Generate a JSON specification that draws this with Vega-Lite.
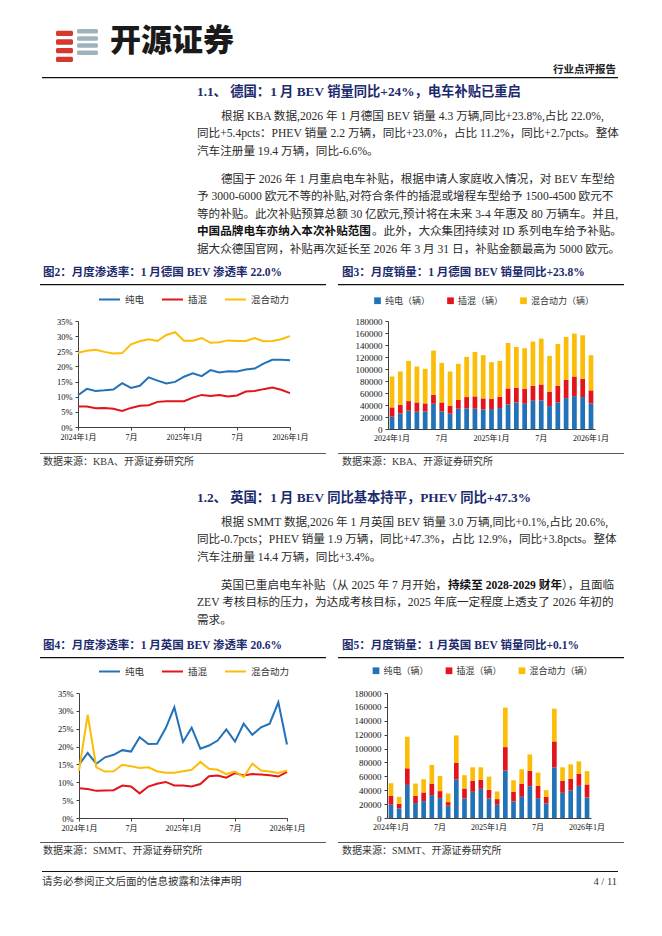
{
  "$schema": "https://vega.github.io/schema/vega-lite/v6.json",
  "padding": 0,
  "background": "#ffffff",
  "config": {
    "view": {"stroke": null},
    "axis": {"labelFont": "Liberation Serif, Noto Sans CJK SC", "grid": false},
    "legend": {"labelFont": "Noto Sans CJK SC"}
  },
  "resolve": {"scale": {"color": "independent"}, "legend": {"color": "independent"}},
  "datasets": {
    "de_pen": [
      {"m": "2024-01", "纯电": 10.5, "插混": 6.8, "混合动力": 24.5},
      {"m": "2024-02", "纯电": 12.6, "插混": 6.8, "混合动力": 25.2},
      {"m": "2024-03", "纯电": 11.9, "插混": 6.2, "混合动力": 25.5},
      {"m": "2024-04", "纯电": 12.1, "插混": 6.3, "混合动力": 24.8},
      {"m": "2024-05", "纯电": 12.4, "插混": 6.0, "混合动力": 24.3},
      {"m": "2024-06", "纯电": 14.5, "插混": 5.3, "混合动力": 24.4},
      {"m": "2024-07", "纯电": 12.9, "插混": 6.3, "混合动力": 27.3},
      {"m": "2024-08", "纯电": 13.6, "插混": 7.0, "混合动力": 28.3},
      {"m": "2024-09", "纯电": 16.4, "插混": 7.2, "混合动力": 29.0},
      {"m": "2024-10", "纯电": 15.3, "插混": 8.3, "混合动力": 28.4},
      {"m": "2024-11", "纯电": 14.4, "插混": 8.5, "混合动力": 30.4},
      {"m": "2024-12", "纯电": 14.9, "插混": 8.5, "混合动力": 31.3},
      {"m": "2025-01", "纯电": 16.6, "插混": 8.5, "混合动力": 28.5},
      {"m": "2025-02", "纯电": 17.7, "插混": 9.7, "混合动力": 28.5},
      {"m": "2025-03", "纯电": 16.8, "插混": 10.6, "混合动力": 29.4},
      {"m": "2025-04", "纯电": 18.8, "插混": 10.2, "混合动力": 27.8},
      {"m": "2025-05", "纯电": 18.0, "插混": 10.6, "混合动力": 28.0},
      {"m": "2025-06", "纯电": 18.4, "插混": 10.1, "混合动力": 28.6},
      {"m": "2025-07", "纯电": 18.3, "插混": 10.4, "混合动力": 28.4},
      {"m": "2025-08", "纯电": 19.0, "插混": 11.7, "混合动力": 28.4},
      {"m": "2025-09", "纯电": 19.3, "插混": 11.9, "混合动力": 29.4},
      {"m": "2025-10", "纯电": 20.9, "插混": 12.5, "混合动力": 28.3},
      {"m": "2025-11", "纯电": 22.2, "插混": 13.0, "混合动力": 28.4},
      {"m": "2025-12", "纯电": 22.2, "插混": 12.3, "混合动力": 29.0},
      {"m": "2026-01", "纯电": 22.0, "插混": 11.2, "混合动力": 30.0}
    ],
    "de_sales": [
      {"m": "2024-01", "纯电（辆）": 20500, "插混（辆）": 15500, "混合动力（辆）": 51500},
      {"m": "2024-02", "纯电（辆）": 26000, "插混（辆）": 14400, "混合动力（辆）": 55400},
      {"m": "2024-03", "纯电（辆）": 30500, "插混（辆）": 16000, "混合动力（辆）": 67100},
      {"m": "2024-04", "纯电（辆）": 28800, "插混（辆）": 15500, "混合动力（辆）": 59900},
      {"m": "2024-05", "纯电（辆）": 29400, "插混（辆）": 13300, "混合动力（辆）": 57600},
      {"m": "2024-06", "纯电（辆）": 42100, "插混（辆）": 14900, "混合动力（辆）": 73700},
      {"m": "2024-07", "纯电（辆）": 29400, "插混（辆）": 14900, "混合动力（辆）": 65900},
      {"m": "2024-08", "纯电（辆）": 25500, "插混（辆）": 13300, "混合动力（辆）": 57000},
      {"m": "2024-09", "纯电（辆）": 33800, "插混（辆）": 15000, "混合动力（辆）": 59800},
      {"m": "2024-10", "纯电（辆）": 34300, "插混（辆）": 18900, "混合动力（辆）": 67000},
      {"m": "2024-11", "纯电（辆）": 33800, "插混（辆）": 20500, "混合动力（辆）": 74200},
      {"m": "2024-12", "纯电（辆）": 32700, "插混（辆）": 18300, "混合动力（辆）": 72000},
      {"m": "2025-01", "纯电（辆）": 33200, "插混（辆）": 17200, "混合动力（辆）": 61000},
      {"m": "2025-02", "纯电（辆）": 34900, "插混（辆）": 18800, "混合动力（辆）": 59900},
      {"m": "2025-03", "纯电（辆）": 41000, "插混（辆）": 26600, "混合动力（辆）": 75900},
      {"m": "2025-04", "纯电（辆）": 44300, "插混（辆）": 24400, "混合动力（辆）": 68100},
      {"m": "2025-05", "纯电（辆）": 42100, "插混（辆）": 24900, "混合动力（辆）": 67600},
      {"m": "2025-06", "纯电（辆）": 47100, "插混（辆）": 24900, "混合动力（辆）": 73700},
      {"m": "2025-07", "纯电（辆）": 47600, "插混（辆）": 26600, "混合动力（辆）": 76500},
      {"m": "2025-08", "纯电（辆）": 38200, "插混（辆）": 23800, "混合动力（辆）": 59900},
      {"m": "2025-09", "纯电（辆）": 44300, "插混（辆）": 27700, "混合动力（辆）": 69800},
      {"m": "2025-10", "纯电（辆）": 51500, "插混（辆）": 30500, "混合动力（辆）": 71500},
      {"m": "2025-11", "纯电（辆）": 54800, "插混（辆）": 32700, "混合动力（辆）": 71500},
      {"m": "2025-12", "纯电（辆）": 53200, "插混（辆）": 30500, "混合动力（辆）": 72500},
      {"m": "2026-01", "纯电（辆）": 42700, "插混（辆）": 21700, "混合动力（辆）": 58600}
    ],
    "uk_pen": [
      {"m": "2024-01", "纯电": 14.9, "插混": 8.3, "混合动力": 13.2},
      {"m": "2024-02", "纯电": 18.2, "插混": 8.1, "混合动力": 28.9},
      {"m": "2024-03", "纯电": 15.2, "插混": 7.6, "混合动力": 14.2},
      {"m": "2024-04", "纯电": 17.0, "插混": 7.7, "混合动力": 13.0},
      {"m": "2024-05", "纯电": 17.7, "插混": 7.8, "混合动力": 13.1},
      {"m": "2024-06", "纯电": 19.0, "插混": 9.1, "混合动力": 14.9},
      {"m": "2024-07", "纯电": 18.6, "插混": 8.8, "混合动力": 14.5},
      {"m": "2024-08", "纯电": 22.6, "插混": 6.9, "混合动力": 14.0},
      {"m": "2024-09", "纯电": 20.7, "插混": 8.8, "混合动力": 14.2},
      {"m": "2024-10", "纯电": 20.8, "插混": 9.6, "混合动力": 13.1},
      {"m": "2024-11", "纯电": 25.1, "插混": 10.1, "混合动力": 12.7},
      {"m": "2024-12", "纯电": 31.0, "插混": 9.1, "混合动力": 12.7},
      {"m": "2025-01", "纯电": 21.3, "插混": 9.1, "混合动力": 13.1},
      {"m": "2025-02", "纯电": 25.3, "插混": 8.8, "混合动力": 13.5},
      {"m": "2025-03", "纯电": 19.4, "插混": 9.5, "混合动力": 15.7},
      {"m": "2025-04", "纯电": 20.3, "插混": 11.7, "混合动力": 13.8},
      {"m": "2025-05", "纯电": 21.7, "插混": 11.9, "混合动力": 13.5},
      {"m": "2025-06", "纯电": 24.8, "插混": 11.3, "混合动力": 12.3},
      {"m": "2025-07", "纯电": 21.4, "插混": 12.6, "混合动力": 13.0},
      {"m": "2025-08", "纯电": 26.4, "插混": 11.9, "混合动力": 11.5},
      {"m": "2025-09", "纯电": 23.3, "插混": 12.3, "混合动力": 15.2},
      {"m": "2025-10", "纯电": 25.4, "插混": 12.2, "混合动力": 13.3},
      {"m": "2025-11", "纯电": 26.4, "插混": 12.0, "混合动力": 13.0},
      {"m": "2025-12", "纯电": 32.4, "插混": 11.6, "混合动力": 12.6},
      {"m": "2026-01", "纯电": 20.6, "插混": 12.9, "混合动力": 13.3}
    ],
    "uk_sales": [
      {"m": "2024-01", "纯电（辆）": 19100, "插混（辆）": 12900, "混合动力（辆）": 18100},
      {"m": "2024-02", "纯电（辆）": 13800, "插混（辆）": 6700, "混合动力（辆）": 10000},
      {"m": "2024-03", "纯电（辆）": 47700, "插混（辆）": 23900, "混合动力（辆）": 45400},
      {"m": "2024-04", "纯电（辆）": 21500, "插混（辆）": 10500, "混合动力（辆）": 17600},
      {"m": "2024-05", "纯电（辆）": 24300, "插混（辆）": 12500, "混合动力（辆）": 19000},
      {"m": "2024-06", "纯电（辆）": 32900, "插混（辆）": 16700, "混合动力（辆）": 26800},
      {"m": "2024-07", "纯电（辆）": 28600, "插混（辆）": 10100, "混合动力（辆）": 21900},
      {"m": "2024-08", "纯电（辆）": 17700, "插混（辆）": 5200, "混合动力（辆）": 12400},
      {"m": "2024-09", "纯电（辆）": 55400, "插混（辆）": 23800, "混合动力（辆）": 39700},
      {"m": "2024-10", "纯电（辆）": 28200, "插混（辆）": 14300, "混合动力（辆）": 19100},
      {"m": "2024-11", "纯电（辆）": 37700, "插混（辆）": 15800, "混合动力（辆）": 19500},
      {"m": "2024-12", "纯电（辆）": 42000, "插混（辆）": 12900, "混合动力（辆）": 18100},
      {"m": "2025-01", "纯电（辆）": 28200, "插混（辆）": 12400, "混合动力（辆）": 19100},
      {"m": "2025-02", "纯电（辆）": 19100, "插混（辆）": 8100, "混合动力（辆）": 11000},
      {"m": "2025-03", "纯电（辆）": 68300, "插混（辆）": 33800, "混合动力（辆）": 56900},
      {"m": "2025-04", "纯电（辆）": 23900, "插混（辆）": 13800, "混合动力（辆）": 16700},
      {"m": "2025-05", "纯电（辆）": 30500, "插混（辆）": 19100, "混合动力（辆）": 20600},
      {"m": "2025-06", "纯电（辆）": 45800, "插混（辆）": 22000, "混合动力（辆）": 23800},
      {"m": "2025-07", "纯电（辆）": 28600, "插混（辆）": 17700, "混合动力（辆）": 19100},
      {"m": "2025-08", "纯电（辆）": 21000, "插混（辆）": 9500, "混合动力（辆）": 9600},
      {"m": "2025-09", "纯电（辆）": 73000, "插混（辆）": 37300, "混合动力（辆）": 47200},
      {"m": "2025-10", "纯电（辆）": 36300, "插混（辆）": 17200, "混合动力（辆）": 19500},
      {"m": "2025-11", "纯电（辆）": 39600, "插混（辆）": 16700, "混合动力（辆）": 21000},
      {"m": "2025-12", "纯电（辆）": 46300, "插混（辆）": 17200, "混合动力（辆）": 18100},
      {"m": "2026-01", "纯电（辆）": 29700, "插混（辆）": 18600, "混合动力（辆）": 19200}
    ]
  },
  "vconcat": [
    {"width": 662, "height": 22, "data": {"values": []}, "mark": "text", "encoding": {}},
    {"hconcat": [
      {"width": 56, "height": 40, "data": {"values": []}, "mark": "text", "encoding": {}},
      {"width": 17, "height": 40, "data": {"values": [{"k": 1}, {"k": 2}, {"k": 3}, {"k": 4}]},
       "mark": {"type": "bar", "color": "#d8372e", "cornerRadius": 1.5},
       "encoding": {"y": {"field": "k", "type": "ordinal", "axis": null, "scale": {"domain": [0, 1, 2, 3, 4], "paddingInner": 0.38, "paddingOuter": 0}}}},
      {"width": 4, "height": 40, "data": {"values": []}, "mark": "text", "encoding": {}},
      {"width": 21, "height": 40, "data": {"values": [{"k": 1}, {"k": 2}, {"k": 3}, {"k": 4}]},
       "mark": {"type": "bar", "color": "#9fb3bf", "cornerRadius": 1.5},
       "encoding": {"y": {"field": "k", "type": "ordinal", "axis": null, "scale": {"domain": [0, 1, 2, 3, 4, 5], "paddingInner": 0.38, "paddingOuter": 0}}}},
      {"width": 12, "height": 40, "data": {"values": []}, "mark": "text", "encoding": {}},
      {"width": 150, "height": 40, "data": {"values": [{"p": "logo", "t": "开源证券"}]},
       "mark": {"type": "text", "align": "left", "baseline": "middle", "font": "Noto Sans CJK SC", "fontSize": 31, "fontWeight": 900, "letterSpacing": 3.5, "color": "#1a1a1a"},
       "encoding": {"x": {"field": "p", "type": "nominal", "axis": null, "scale": {"type": "point", "padding": 0, "align": 0}}, "text": {"field": "t"}}}
    ], "spacing": 0, "bounds": "flush"},
    {"hconcat": [
      {"width": 553, "height": 15, "data": {"values": []}, "mark": "text", "encoding": {}},
      {"width": 63, "height": 15, "data": {"values": [{"p": "hdr", "t": "行业点评报告"}]},
       "mark": {"type": "text", "align": "right", "baseline": "middle", "font": "Noto Sans CJK SC", "fontSize": 10.5, "fontWeight": "bold", "color": "#222"},
       "encoding": {"x": {"field": "p", "type": "nominal", "axis": null, "scale": {"type": "point", "padding": 0, "align": 1}}, "text": {"field": "t"}}}
    ], "spacing": 0, "bounds": "flush"},
    {"hconcat": [
      {"width": 42, "height": 1.3, "data": {"values": []}, "mark": "text", "encoding": {}},
      {"width": 576, "height": 1.3, "view": {"fill": "#111", "stroke": null}, "data": {"values": []}, "mark": "text", "encoding": {}}
    ], "spacing": 0, "bounds": "flush"},
    {"width": 662, "height": 3.7, "data": {"values": []}, "mark": "text", "encoding": {}},
    {"hconcat": [
      {"width": 197, "height": 18, "data": {"values": []}, "mark": "text", "encoding": {}},
      {"width": 421, "height": 18, "data": {"values": [{"p": "1.1", "t": "1.1、 德国：1 月 BEV 销量同比+24%，电车补贴已重启"}]},
       "mark": {"type": "text", "align": "left", "baseline": "middle", "font": "Liberation Serif, Noto Sans CJK SC", "fontSize": 13.3, "fontWeight": "bold", "color": "#1c2b6e"},
       "encoding": {"x": {"field": "p", "type": "nominal", "axis": null, "scale": {"type": "point", "padding": 0, "align": 0}}, "text": {"field": "t"}}}
    ], "spacing": 0, "bounds": "flush"},
    {"width": 662, "height": 6.25, "data": {"values": []}, "mark": "text", "encoding": {}},
    {"hconcat": [
      {"width": 197, "height": 52.5, "data": {"values": []}, "mark": "text", "encoding": {}},
      {"width": 23.2, "height": 52.5, "data": {"values": [
        {"p": "1.1-1", "line": 2, "t": "同比+5.4pcts：PHEV 销量 2.2 万辆，同比+23.0%，占比 11.2%，同比+2.7pcts。整体"},
        {"p": "1.1-1", "line": 3, "t": "汽车注册量 19.4 万辆，同比-6.6%。"}
      ]},
       "mark": {"type": "text", "align": "left", "baseline": "middle", "font": "Liberation Serif, Noto Sans CJK SC", "fontSize": 11.6, "color": "#2a2a2a"},
       "encoding": {"x": {"field": "p", "type": "nominal", "axis": null, "scale": {"type": "point", "padding": 0, "align": 0}},
                    "y": {"field": "line", "type": "ordinal", "axis": null, "scale": {"type": "point", "padding": 0.5, "domain": [1, 2, 3]}}, "text": {"field": "t"}}},
      {"width": 397.8, "height": 52.5, "data": {"values": [
        {"p": "1.1-1", "line": 1, "t": "根据 KBA 数据,2026 年 1 月德国 BEV 销量 4.3 万辆,同比+23.8%,占比 22.0%,"}
      ]},
       "mark": {"type": "text", "align": "left", "baseline": "middle", "font": "Liberation Serif, Noto Sans CJK SC", "fontSize": 11.6, "color": "#2a2a2a"},
       "encoding": {"x": {"field": "p", "type": "nominal", "axis": null, "scale": {"type": "point", "padding": 0, "align": 0}},
                    "y": {"field": "line", "type": "ordinal", "axis": null, "scale": {"type": "point", "padding": 0.5, "domain": [1, 2, 3]}}, "text": {"field": "t"}}}
    ], "spacing": 0, "bounds": "flush"},
    {"width": 662, "height": 9.5, "data": {"values": []}, "mark": "text", "encoding": {}},
    {"hconcat": [
      {"width": 197, "height": 87.5, "data": {"values": []}, "mark": "text", "encoding": {}},
      {"width": 23.2, "height": 87.5, "layer": [
        {"data": {"values": [
          {"p": "1.1-2", "line": 2, "t": "予 3000-6000 欧元不等的补贴,对符合条件的插混或增程车型给予 1500-4500 欧元不"},
          {"p": "1.1-2", "line": 3, "t": "等的补贴。此次补贴预算总额 30 亿欧元,预计将在未来 3-4 年惠及 80 万辆车。并且,"},
          {"p": "1.1-2", "line": 5, "t": "据大众德国官网，补贴再次延长至 2026 年 3 月 31 日，补贴金额最高为 5000 欧元。"}
        ]},
         "mark": {"type": "text", "align": "left", "baseline": "middle", "font": "Liberation Serif, Noto Sans CJK SC", "fontSize": 11.6, "color": "#2a2a2a"},
         "encoding": {"x": {"field": "p", "type": "nominal", "axis": null, "scale": {"type": "point", "padding": 0, "align": 0}},
                      "y": {"field": "line", "type": "ordinal", "axis": null, "scale": {"type": "point", "padding": 0.5, "domain": [1, 2, 3, 4, 5]}}, "text": {"field": "t"}}},
        {"data": {"values": [{"p": "1.1-2", "line": 4, "t": "中国品牌电车亦纳入本次补贴范围"}]},
         "mark": {"type": "text", "align": "left", "baseline": "middle", "font": "Liberation Serif, Noto Sans CJK SC", "fontSize": 11.6, "fontWeight": "bold", "color": "#111"},
         "encoding": {"x": {"field": "p", "type": "nominal", "axis": null},
                      "y": {"field": "line", "type": "ordinal", "axis": null}, "text": {"field": "t"}}}
      ]},
      {"width": 150.8, "height": 87.5, "data": {"values": [{"p": "1.1-2", "line": 1, "t": "德国于 2026 年 1 月重启电车补贴，根据申请人家庭收入情况，对 BEV 车型给"}]},
       "mark": {"type": "text", "align": "left", "baseline": "middle", "font": "Liberation Serif, Noto Sans CJK SC", "fontSize": 11.6, "color": "#2a2a2a"},
       "encoding": {"x": {"field": "p", "type": "nominal", "axis": null, "scale": {"type": "point", "padding": 0, "align": 0}},
                    "y": {"field": "line", "type": "ordinal", "axis": null, "scale": {"type": "point", "padding": 0.5, "domain": [1, 2, 3, 4, 5]}}, "text": {"field": "t"}}},
      {"width": 247, "height": 87.5, "data": {"values": [{"p": "1.1-2", "line": 4, "t": "。此外，大众集团持续对 ID 系列电车给予补贴。"}]},
       "mark": {"type": "text", "align": "left", "baseline": "middle", "font": "Liberation Serif, Noto Sans CJK SC", "fontSize": 11.6, "color": "#2a2a2a"},
       "encoding": {"x": {"field": "p", "type": "nominal", "axis": null, "scale": {"type": "point", "padding": 0, "align": 0}},
                    "y": {"field": "line", "type": "ordinal", "axis": null, "scale": {"type": "point", "padding": 0.5, "domain": [1, 2, 3, 4, 5]}}, "text": {"field": "t"}}}
    ], "spacing": 0, "bounds": "flush"},
    {"width": 662, "height": 2.25, "data": {"values": []}, "mark": "text", "encoding": {}},
    {"hconcat": [
      {"width": 42.5, "height": 22, "data": {"values": []}, "mark": "text", "encoding": {}},
      {"width": 283, "height": 22, "data": {"values": [{"p": "图2", "t": "图2：月度渗透率：1 月德国 BEV 渗透率 22.0%"}]},
       "mark": {"type": "text", "align": "left", "baseline": "middle", "font": "Liberation Serif, Noto Sans CJK SC", "fontSize": 11.5, "fontWeight": "bold", "color": "#1c2b6e"},
       "encoding": {"x": {"field": "p", "type": "nominal", "axis": null, "scale": {"type": "point", "padding": 0, "align": 0}}, "text": {"field": "t"}}},
      {"width": 16, "height": 22, "data": {"values": []}, "mark": "text", "encoding": {}},
      {"width": 283, "height": 22, "data": {"values": [{"p": "图3", "t": "图3：月度销量：1 月德国 BEV 销量同比+23.8%"}]},
       "mark": {"type": "text", "align": "left", "baseline": "middle", "font": "Liberation Serif, Noto Sans CJK SC", "fontSize": 11.5, "fontWeight": "bold", "color": "#1c2b6e"},
       "encoding": {"x": {"field": "p", "type": "nominal", "axis": null, "scale": {"type": "point", "padding": 0, "align": 0}}, "text": {"field": "t"}}}
    ], "spacing": 0, "bounds": "flush"},
    {"hconcat": [
      {"width": 40, "height": 1.2, "data": {"values": []}, "mark": "text", "encoding": {}},
      {"width": 286, "height": 1.2, "view": {"fill": "#111", "stroke": null}, "data": {"values": []}, "mark": "text", "encoding": {}},
      {"width": 12, "height": 1.2, "data": {"values": []}, "mark": "text", "encoding": {}},
      {"width": 286, "height": 1.2, "view": {"fill": "#111", "stroke": null}, "data": {"values": []}, "mark": "text", "encoding": {}}
    ], "spacing": 0, "bounds": "flush"},
    {"width": 662, "height": 1.8, "data": {"values": []}, "mark": "text", "encoding": {}},
    {"hconcat": [
      {"width": 78, "height": 106, "data": {"values": []}, "mark": "text", "encoding": {}},
      {"width": 212, "height": 106, "data": {"name": "de_pen"},
       "transform": [{"fold": ["纯电", "插混", "混合动力"], "as": ["s", "v"]}],
       "mark": {"type": "line", "strokeWidth": 2},
       "encoding": {
         "x": {"field": "m", "type": "ordinal", "scale": {"type": "point", "padding": 0},
               "axis": {"title": null, "values": ["2024-01", "2024-07", "2025-01", "2025-07", "2026-01"], "labelExpr": "substring(datum.value,5,7)=='01' ? substring(datum.value,0,4)+'年1月' : '7月'", "labelAngle": 0, "labelFontSize": 8, "labelColor": "#111", "labelPadding": 3, "tickSize": 3, "tickColor": "#404040", "domainColor": "#404040", "labelOverlap": false, "labelFlush": false, "labelBound": false}},
         "y": {"field": "v", "type": "quantitative", "scale": {"domain": [0, 35], "nice": false},
               "axis": {"title": null, "values": [0, 5, 10, 15, 20, 25, 30, 35], "labelExpr": "datum.value + '%'", "labelFontSize": 8.5, "labelColor": "#111", "labelPadding": 3, "tickSize": 3, "tickColor": "#404040", "domainColor": "#404040"}},
         "color": {"field": "s", "type": "nominal", "scale": {"domain": ["纯电", "插混", "混合动力"], "range": ["#2272b8", "#e3141b", "#fbbd08"]},
                   "legend": {"orient": "none", "legendX": 20, "legendY": -33, "direction": "horizontal", "title": null, "symbolType": "stroke", "symbolStrokeWidth": 2, "symbolSize": 440, "labelFontSize": 9.5, "labelColor": "#333", "labelOffset": 4, "columnPadding": 13, "padding": 0}}
       }},
      {"width": 98, "height": 106, "data": {"values": []}, "mark": "text", "encoding": {}},
      {"width": 207, "height": 108, "data": {"name": "de_sales"},
       "transform": [{"fold": ["纯电（辆）", "插混（辆）", "混合动力（辆）"], "as": ["s", "v"]}, {"calculate": "indexof(['纯电（辆）','插混（辆）','混合动力（辆）'], datum.s)", "as": "o"}],
       "mark": {"type": "bar"},
       "encoding": {
         "x": {"field": "m", "type": "ordinal", "scale": {"paddingInner": 0.43, "paddingOuter": 0.2},
               "axis": {"title": null, "values": ["2024-01", "2024-07", "2025-01", "2025-07", "2026-01"], "labelExpr": "substring(datum.value,5,7)=='01' ? substring(datum.value,0,4)+'年1月' : '7月'", "labelAngle": 0, "labelFontSize": 8, "labelColor": "#111", "labelPadding": 5, "ticks": false, "domainColor": "#404040", "labelOverlap": false, "labelFlush": false, "labelBound": false}},
         "y": {"field": "v", "type": "quantitative", "stack": "zero", "scale": {"domain": [0, 180000], "nice": false},
               "axis": {"title": null, "values": [0, 20000, 40000, 60000, 80000, 100000, 120000, 140000, 160000, 180000], "format": "d", "labelFontSize": 9, "labelColor": "#111", "labelPadding": 3, "tickSize": 3, "tickColor": "#404040", "domainColor": "#404040"}},
         "color": {"field": "s", "type": "nominal", "scale": {"domain": ["纯电（辆）", "插混（辆）", "混合动力（辆）"], "range": ["#2272b8", "#e3141b", "#fbbd08"]},
                   "legend": {"orient": "none", "legendX": -15, "legendY": -25, "direction": "horizontal", "title": null, "symbolType": "square", "symbolSize": 45, "labelFontSize": 9, "labelColor": "#333", "labelOffset": 3, "columnPadding": 15, "padding": 0}},
         "order": {"field": "o", "type": "quantitative"}
       }}
    ], "spacing": 0, "bounds": "flush", "resolve": {"scale": {"color": "independent"}, "legend": {"color": "independent"}}},
    {"width": 662, "height": 11, "data": {"values": []}, "mark": "text", "encoding": {}},
    {"hconcat": [
      {"width": 40, "height": 0.8, "data": {"values": []}, "mark": "text", "encoding": {}},
      {"width": 286, "height": 0.8, "view": {"fill": "#222", "stroke": null}, "data": {"values": []}, "mark": "text", "encoding": {}},
      {"width": 12, "height": 0.8, "data": {"values": []}, "mark": "text", "encoding": {}},
      {"width": 286, "height": 0.8, "view": {"fill": "#222", "stroke": null}, "data": {"values": []}, "mark": "text", "encoding": {}}
    ], "spacing": 0, "bounds": "flush"},
    {"hconcat": [
      {"width": 42.5, "height": 16.2, "data": {"values": []}, "mark": "text", "encoding": {}},
      {"width": 283, "height": 16.2, "data": {"values": [{"p": "s2", "t": "数据来源：KBA、开源证券研究所"}]},
       "mark": {"type": "text", "align": "left", "baseline": "middle", "font": "Liberation Serif, Noto Sans CJK SC", "fontSize": 10, "color": "#333"},
       "encoding": {"x": {"field": "p", "type": "nominal", "axis": null, "scale": {"type": "point", "padding": 0, "align": 0}}, "text": {"field": "t"}}},
      {"width": 16, "height": 16.2, "data": {"values": []}, "mark": "text", "encoding": {}},
      {"width": 283, "height": 16.2, "data": {"values": [{"p": "s3", "t": "数据来源：KBA、开源证券研究所"}]},
       "mark": {"type": "text", "align": "left", "baseline": "middle", "font": "Liberation Serif, Noto Sans CJK SC", "fontSize": 10, "color": "#333"},
       "encoding": {"x": {"field": "p", "type": "nominal", "axis": null, "scale": {"type": "point", "padding": 0, "align": 0}}, "text": {"field": "t"}}}
    ], "spacing": 0, "bounds": "flush"},
    {"width": 662, "height": 18, "data": {"values": []}, "mark": "text", "encoding": {}},
    {"hconcat": [
      {"width": 197, "height": 18, "data": {"values": []}, "mark": "text", "encoding": {}},
      {"width": 421, "height": 18, "data": {"values": [{"p": "1.2", "t": "1.2、 英国：1 月 BEV 同比基本持平，PHEV 同比+47.3%"}]},
       "mark": {"type": "text", "align": "left", "baseline": "middle", "font": "Liberation Serif, Noto Sans CJK SC", "fontSize": 13.3, "fontWeight": "bold", "color": "#1c2b6e"},
       "encoding": {"x": {"field": "p", "type": "nominal", "axis": null, "scale": {"type": "point", "padding": 0, "align": 0}}, "text": {"field": "t"}}}
    ], "spacing": 0, "bounds": "flush"},
    {"width": 662, "height": 6.25, "data": {"values": []}, "mark": "text", "encoding": {}},
    {"hconcat": [
      {"width": 197, "height": 52.5, "data": {"values": []}, "mark": "text", "encoding": {}},
      {"width": 23.2, "height": 52.5, "data": {"values": [
        {"p": "1.2-1", "line": 2, "t": "同比-0.7pcts；PHEV 销量 1.9 万辆，同比+47.3%，占比 12.9%，同比+3.8pcts。整体"},
        {"p": "1.2-1", "line": 3, "t": "汽车注册量 14.4 万辆，同比+3.4%。"}
      ]},
       "mark": {"type": "text", "align": "left", "baseline": "middle", "font": "Liberation Serif, Noto Sans CJK SC", "fontSize": 11.6, "color": "#2a2a2a"},
       "encoding": {"x": {"field": "p", "type": "nominal", "axis": null, "scale": {"type": "point", "padding": 0, "align": 0}},
                    "y": {"field": "line", "type": "ordinal", "axis": null, "scale": {"type": "point", "padding": 0.5, "domain": [1, 2, 3]}}, "text": {"field": "t"}}},
      {"width": 397.8, "height": 52.5, "data": {"values": [
        {"p": "1.2-1", "line": 1, "t": "根据 SMMT 数据,2026 年 1 月英国 BEV 销量 3.0 万辆,同比+0.1%,占比 20.6%,"}
      ]},
       "mark": {"type": "text", "align": "left", "baseline": "middle", "font": "Liberation Serif, Noto Sans CJK SC", "fontSize": 11.6, "color": "#2a2a2a"},
       "encoding": {"x": {"field": "p", "type": "nominal", "axis": null, "scale": {"type": "point", "padding": 0, "align": 0}},
                    "y": {"field": "line", "type": "ordinal", "axis": null, "scale": {"type": "point", "padding": 0.5, "domain": [1, 2, 3]}}, "text": {"field": "t"}}}
    ], "spacing": 0, "bounds": "flush"},
    {"width": 662, "height": 9.5, "data": {"values": []}, "mark": "text", "encoding": {}},
    {"hconcat": [
      {"width": 197, "height": 52.5, "data": {"values": []}, "mark": "text", "encoding": {}},
      {"width": 23.2, "height": 52.5, "data": {"values": [
        {"p": "1.2-2", "line": 2, "t": "ZEV 考核目标的压力，为达成考核目标，2025 年底一定程度上透支了 2026 年初的"},
        {"p": "1.2-2", "line": 3, "t": "需求。"}
      ]},
       "mark": {"type": "text", "align": "left", "baseline": "middle", "font": "Liberation Serif, Noto Sans CJK SC", "fontSize": 11.6, "color": "#2a2a2a"},
       "encoding": {"x": {"field": "p", "type": "nominal", "axis": null, "scale": {"type": "point", "padding": 0, "align": 0}},
                    "y": {"field": "line", "type": "ordinal", "axis": null, "scale": {"type": "point", "padding": 0.5, "domain": [1, 2, 3]}}, "text": {"field": "t"}}},
      {"width": 226.2, "height": 52.5, "data": {"values": [{"p": "1.2-2", "line": 1, "t": "英国已重启电车补贴（从 2025 年 7 月开始，"}]},
       "mark": {"type": "text", "align": "left", "baseline": "middle", "font": "Liberation Serif, Noto Sans CJK SC", "fontSize": 11.6, "color": "#2a2a2a"},
       "encoding": {"x": {"field": "p", "type": "nominal", "axis": null, "scale": {"type": "point", "padding": 0, "align": 0}},
                    "y": {"field": "line", "type": "ordinal", "axis": null, "scale": {"type": "point", "padding": 0.5, "domain": [1, 2, 3]}}, "text": {"field": "t"}}},
      {"width": 114, "height": 52.5, "data": {"values": [{"p": "1.2-2", "line": 1, "t": "持续至 2028-2029 财年"}]},
       "mark": {"type": "text", "align": "left", "baseline": "middle", "font": "Liberation Serif, Noto Sans CJK SC", "fontSize": 11.6, "fontWeight": "bold", "color": "#111"},
       "encoding": {"x": {"field": "p", "type": "nominal", "axis": null, "scale": {"type": "point", "padding": 0, "align": 0}},
                    "y": {"field": "line", "type": "ordinal", "axis": null, "scale": {"type": "point", "padding": 0.5, "domain": [1, 2, 3]}}, "text": {"field": "t"}}},
      {"width": 58, "height": 52.5, "data": {"values": [{"p": "1.2-2", "line": 1, "t": "），且面临"}]},
       "mark": {"type": "text", "align": "left", "baseline": "middle", "font": "Liberation Serif, Noto Sans CJK SC", "fontSize": 11.6, "color": "#2a2a2a"},
       "encoding": {"x": {"field": "p", "type": "nominal", "axis": null, "scale": {"type": "point", "padding": 0, "align": 0}},
                    "y": {"field": "line", "type": "ordinal", "axis": null, "scale": {"type": "point", "padding": 0.5, "domain": [1, 2, 3]}}, "text": {"field": "t"}}}
    ], "spacing": 0, "bounds": "flush"},
    {"width": 662, "height": 4.25, "data": {"values": []}, "mark": "text", "encoding": {}},
    {"hconcat": [
      {"width": 42.5, "height": 22, "data": {"values": []}, "mark": "text", "encoding": {}},
      {"width": 283, "height": 22, "data": {"values": [{"p": "图4", "t": "图4：月度渗透率：1 月英国 BEV 渗透率 20.6%"}]},
       "mark": {"type": "text", "align": "left", "baseline": "middle", "font": "Liberation Serif, Noto Sans CJK SC", "fontSize": 11.5, "fontWeight": "bold", "color": "#1c2b6e"},
       "encoding": {"x": {"field": "p", "type": "nominal", "axis": null, "scale": {"type": "point", "padding": 0, "align": 0}}, "text": {"field": "t"}}},
      {"width": 16, "height": 22, "data": {"values": []}, "mark": "text", "encoding": {}},
      {"width": 283, "height": 22, "data": {"values": [{"p": "图5", "t": "图5：月度销量：1 月英国 BEV 销量同比+0.1%"}]},
       "mark": {"type": "text", "align": "left", "baseline": "middle", "font": "Liberation Serif, Noto Sans CJK SC", "fontSize": 11.5, "fontWeight": "bold", "color": "#1c2b6e"},
       "encoding": {"x": {"field": "p", "type": "nominal", "axis": null, "scale": {"type": "point", "padding": 0, "align": 0}}, "text": {"field": "t"}}}
    ], "spacing": 0, "bounds": "flush"},
    {"hconcat": [
      {"width": 40, "height": 1.2, "data": {"values": []}, "mark": "text", "encoding": {}},
      {"width": 286, "height": 1.2, "view": {"fill": "#111", "stroke": null}, "data": {"values": []}, "mark": "text", "encoding": {}},
      {"width": 12, "height": 1.2, "data": {"values": []}, "mark": "text", "encoding": {}},
      {"width": 286, "height": 1.2, "view": {"fill": "#111", "stroke": null}, "data": {"values": []}, "mark": "text", "encoding": {}}
    ], "spacing": 0, "bounds": "flush"},
    {"width": 662, "height": 0.5, "data": {"values": []}, "mark": "text", "encoding": {}},
    {"hconcat": [
      {"width": 79, "height": 125, "data": {"values": []}, "mark": "text", "encoding": {}},
      {"width": 208, "height": 125, "data": {"name": "uk_pen"},
       "transform": [{"fold": ["纯电", "插混", "混合动力"], "as": ["s", "v"]}],
       "mark": {"type": "line", "strokeWidth": 2},
       "encoding": {
         "x": {"field": "m", "type": "ordinal", "scale": {"type": "point", "padding": 0},
               "axis": {"title": null, "values": ["2024-01", "2024-07", "2025-01", "2025-07", "2026-01"], "labelExpr": "substring(datum.value,5,7)=='01' ? substring(datum.value,0,4)+'年1月' : '7月'", "labelAngle": 0, "labelFontSize": 8, "labelColor": "#111", "labelPadding": 3, "tickSize": 3, "tickColor": "#404040", "domainColor": "#404040", "labelOverlap": false, "labelFlush": false, "labelBound": false}},
         "y": {"field": "v", "type": "quantitative", "scale": {"domain": [0, 35], "nice": false},
               "axis": {"title": null, "values": [0, 5, 10, 15, 20, 25, 30, 35], "labelExpr": "datum.value + '%'", "labelFontSize": 8.5, "labelColor": "#111", "labelPadding": 3, "tickSize": 3, "tickColor": "#404040", "domainColor": "#404040"}},
         "color": {"field": "s", "type": "nominal", "scale": {"domain": ["纯电", "插混", "混合动力"], "range": ["#2272b8", "#e3141b", "#fbbd08"]},
                   "legend": {"orient": "none", "legendX": 19, "legendY": -33, "direction": "horizontal", "title": null, "symbolType": "stroke", "symbolStrokeWidth": 2, "symbolSize": 440, "labelFontSize": 9.5, "labelColor": "#333", "labelOffset": 4, "columnPadding": 13, "padding": 0}}
       }},
      {"width": 100, "height": 125, "data": {"values": []}, "mark": "text", "encoding": {}},
      {"width": 204, "height": 125, "data": {"name": "uk_sales"},
       "transform": [{"fold": ["纯电（辆）", "插混（辆）", "混合动力（辆）"], "as": ["s", "v"]}, {"calculate": "indexof(['纯电（辆）','插混（辆）','混合动力（辆）'], datum.s)", "as": "o"}],
       "mark": {"type": "bar"},
       "encoding": {
         "x": {"field": "m", "type": "ordinal", "scale": {"paddingInner": 0.43, "paddingOuter": 0.2},
               "axis": {"title": null, "values": ["2024-01", "2024-07", "2025-01", "2025-07", "2026-01"], "labelExpr": "substring(datum.value,5,7)=='01' ? substring(datum.value,0,4)+'年1月' : '7月'", "labelAngle": 0, "labelFontSize": 8, "labelColor": "#111", "labelPadding": 5, "ticks": false, "domainColor": "#404040", "labelOverlap": false, "labelFlush": false, "labelBound": false}},
         "y": {"field": "v", "type": "quantitative", "stack": "zero", "scale": {"domain": [0, 180000], "nice": false},
               "axis": {"title": null, "values": [0, 20000, 40000, 60000, 80000, 100000, 120000, 140000, 160000, 180000], "format": "d", "labelFontSize": 9, "labelColor": "#111", "labelPadding": 3, "tickSize": 3, "tickColor": "#404040", "domainColor": "#404040"}},
         "color": {"field": "s", "type": "nominal", "scale": {"domain": ["纯电（辆）", "插混（辆）", "混合动力（辆）"], "range": ["#2272b8", "#e3141b", "#fbbd08"]},
                   "legend": {"orient": "none", "legendX": -15.5, "legendY": -27, "direction": "horizontal", "title": null, "symbolType": "square", "symbolSize": 45, "labelFontSize": 9, "labelColor": "#333", "labelOffset": 3, "columnPadding": 15, "padding": 0}},
         "order": {"field": "o", "type": "quantitative"}
       }}
    ], "spacing": 0, "bounds": "flush", "resolve": {"scale": {"color": "independent"}, "legend": {"color": "independent"}}},
    {"width": 662, "height": 10, "data": {"values": []}, "mark": "text", "encoding": {}},
    {"hconcat": [
      {"width": 40, "height": 0.8, "data": {"values": []}, "mark": "text", "encoding": {}},
      {"width": 286, "height": 0.8, "view": {"fill": "#222", "stroke": null}, "data": {"values": []}, "mark": "text", "encoding": {}},
      {"width": 12, "height": 0.8, "data": {"values": []}, "mark": "text", "encoding": {}},
      {"width": 286, "height": 0.8, "view": {"fill": "#222", "stroke": null}, "data": {"values": []}, "mark": "text", "encoding": {}}
    ], "spacing": 0, "bounds": "flush"},
    {"hconcat": [
      {"width": 42.5, "height": 16, "data": {"values": []}, "mark": "text", "encoding": {}},
      {"width": 283, "height": 16, "data": {"values": [{"p": "s4", "t": "数据来源：SMMT、开源证券研究所"}]},
       "mark": {"type": "text", "align": "left", "baseline": "middle", "font": "Liberation Serif, Noto Sans CJK SC", "fontSize": 10, "color": "#333"},
       "encoding": {"x": {"field": "p", "type": "nominal", "axis": null, "scale": {"type": "point", "padding": 0, "align": 0}}, "text": {"field": "t"}}},
      {"width": 16, "height": 16, "data": {"values": []}, "mark": "text", "encoding": {}},
      {"width": 283, "height": 16, "data": {"values": [{"p": "s5", "t": "数据来源：SMMT、开源证券研究所"}]},
       "mark": {"type": "text", "align": "left", "baseline": "middle", "font": "Liberation Serif, Noto Sans CJK SC", "fontSize": 10, "color": "#333"},
       "encoding": {"x": {"field": "p", "type": "nominal", "axis": null, "scale": {"type": "point", "padding": 0, "align": 0}}, "text": {"field": "t"}}}
    ], "spacing": 0, "bounds": "flush"},
    {"width": 662, "height": 11.2, "data": {"values": []}, "mark": "text", "encoding": {}},
    {"hconcat": [
      {"width": 42, "height": 1, "data": {"values": []}, "mark": "text", "encoding": {}},
      {"width": 576, "height": 1, "view": {"fill": "#111", "stroke": null}, "data": {"values": []}, "mark": "text", "encoding": {}}
    ], "spacing": 0, "bounds": "flush"},
    {"width": 662, "height": 2, "data": {"values": []}, "mark": "text", "encoding": {}},
    {"hconcat": [
      {"width": 42, "height": 16, "data": {"values": []}, "mark": "text", "encoding": {}},
      {"width": 300, "height": 16, "data": {"values": [{"p": "footer", "t": "请务必参阅正文后面的信息披露和法律声明"}]},
       "mark": {"type": "text", "align": "left", "baseline": "middle", "font": "Noto Sans CJK SC", "fontSize": 10.5, "color": "#333"},
       "encoding": {"x": {"field": "p", "type": "nominal", "axis": null, "scale": {"type": "point", "padding": 0, "align": 0}}, "text": {"field": "t"}}},
      {"width": 215, "height": 16, "data": {"values": []}, "mark": "text", "encoding": {}},
      {"width": 60, "height": 16, "data": {"values": [{"p": "page", "t": "4 / 11"}]},
       "mark": {"type": "text", "align": "right", "baseline": "middle", "font": "Liberation Serif", "fontSize": 10.5, "color": "#333"},
       "encoding": {"x": {"field": "p", "type": "nominal", "axis": null, "scale": {"type": "point", "padding": 0, "align": 1}}, "text": {"field": "t"}}}
    ], "spacing": 0, "bounds": "flush"},
    {"width": 662, "height": 40, "data": {"values": []}, "mark": "text", "encoding": {}}
  ],
  "spacing": 0
}
